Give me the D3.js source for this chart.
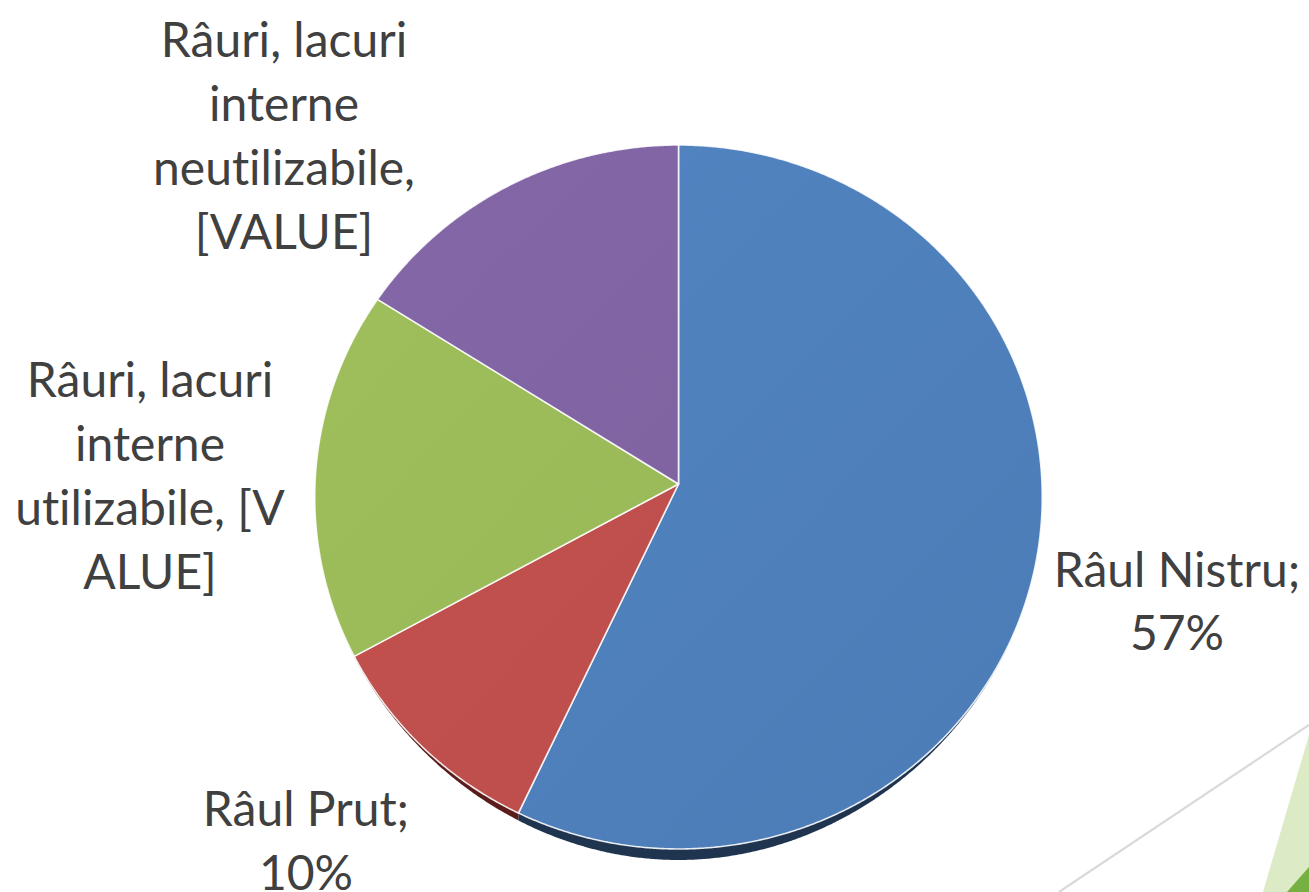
<!DOCTYPE html>
<html><head><meta charset="utf-8">
<script src="https://cdn.jsdelivr.net/npm/d3@7"></script>
<style>html,body{margin:0;padding:0;background:#fff;}svg{display:block;}text{font-variant-ligatures:none;font-feature-settings:"liga" 0;}</style>
</head><body>
<script>
// ---- data ----
const categories = ["Râul Nistru", "Râul Prut", "Râuri, lacuri interne utilizabile", "Râuri, lacuri interne neutilizabile"];
const values = [57, 10, 17, 16];
const labelLines = [
  ["Râul Nistru;", "57%"],
  ["Râul Prut;", "10%"],
  ["Râuri, lacuri", "interne", "utilizabile, [V", "ALUE]"],
  ["Râuri, lacuri", "interne", "neutilizabile,", "[VALUE]"]
];
const colors = ["#4f81bd", "#c0504d", "#9bbb59", "#8064a2"];
const sideColors = ["#1f344f", "#5a1d1c", "#4f6229", "#3f3151"];

// ---- layout ----
const W = 1309, H = 892;
const cx = 678.5, cy = 484;
const rx = 363.5, t = 351.5, k = 0.0369; // perspective-tilted disk
const depth = 11;
const labelAnchors = [
  {x: 1177, y: 587, dy: 63},
  {x: 306, y: 826, dy: 64},
  {x: 150, y: 397, dy: 64},
  {x: 284, y: 57, dy: 64}
];

const svg = d3.select("body").append("svg").attr("width", W).attr("height", H);

// background decoration
svg.append("line").attr("x1", 1059).attr("y1", 892).attr("x2", 1309).attr("y2", 725)
  .attr("stroke", "#d9d9d9").attr("stroke-width", 2.2);
svg.append("path").attr("d", "M1309,735 L1263,892 L1309,892 Z").attr("fill", "#dcebc5");
svg.append("path").attr("d", "M1287,892 L1309,867 L1309,892 Z").attr("fill", "#76b043");

const defs = svg.append("defs");
colors.forEach((c, i) => {
  const g = defs.append("linearGradient").attr("id", "g" + i)
    .attr("gradientUnits", "userSpaceOnUse")
    .attr("x1", cx - rx).attr("y1", cy - 340).attr("x2", cx + rx).attr("y2", cy + 360);
  g.append("stop").attr("offset", 0).attr("stop-color", d3.color(c).brighter(0.08));
  g.append("stop").attr("offset", 1).attr("stop-color", d3.color(c).darker(0.1));
});

// projection of unit disk (u right, v toward viewer/down)
const sx = d3.scaleLinear().domain([-1, 1]).range([cx - rx, cx + rx]);
const sy = d3.scaleLinear().domain([-1, 1]).range([cy - t, cy + t]);
function proj(u, v) {
  const w = 1 - k * v;
  return [sx(u / w), sy(v / w)];
}
function edge(a) { return proj(Math.sin(a), -Math.cos(a)); }

const pie = d3.pie().sort(null).value(d => d)(values);
const line = d3.line();

function samples(a0, a1) {
  const n = Math.max(2, Math.ceil((a1 - a0) / 0.005));
  return d3.range(n + 1).map(i => a0 + (a1 - a0) * i / n);
}

// sides (visible rim)
pie.forEach((p, i) => {
  const angs = samples(p.startAngle, p.endAngle).filter(a => -Math.cos(a) > 0);
  if (angs.length < 2) return;
  const top = angs.map(a => edge(a));
  const bot = angs.map(a => { const e = edge(a); const v = -Math.cos(a); return [e[0], e[1] + depth * Math.pow(v, 4)]; }).reverse();
  svg.append("path").attr("d", line(top.concat(bot)) + "Z").attr("fill", sideColors[i]);
});

// faces
pie.forEach((p, i) => {
  const pts = [proj(0, 0)].concat(samples(p.startAngle, p.endAngle).map(edge));
  svg.append("path").attr("d", line(pts) + "Z")
    .attr("fill", "url(#g" + i + ")")
    .attr("stroke", "#ffffff").attr("stroke-opacity", 0.85).attr("stroke-width", 1.6)
    .attr("stroke-linejoin", "round");
});

// labels
pie.forEach((p, i) => {
  const a = labelAnchors[i];
  const txt = svg.append("text").attr("text-anchor", "middle")
    .attr("font-family", "Lato, 'Open Sans', sans-serif").attr("font-size", 48)
    .attr("fill", "#404040");
  labelLines[i].forEach((s, j) => {
    txt.append("tspan").attr("x", a.x).attr("y", a.y + j * a.dy).text(s);
  });
});
</script>
</body></html>
